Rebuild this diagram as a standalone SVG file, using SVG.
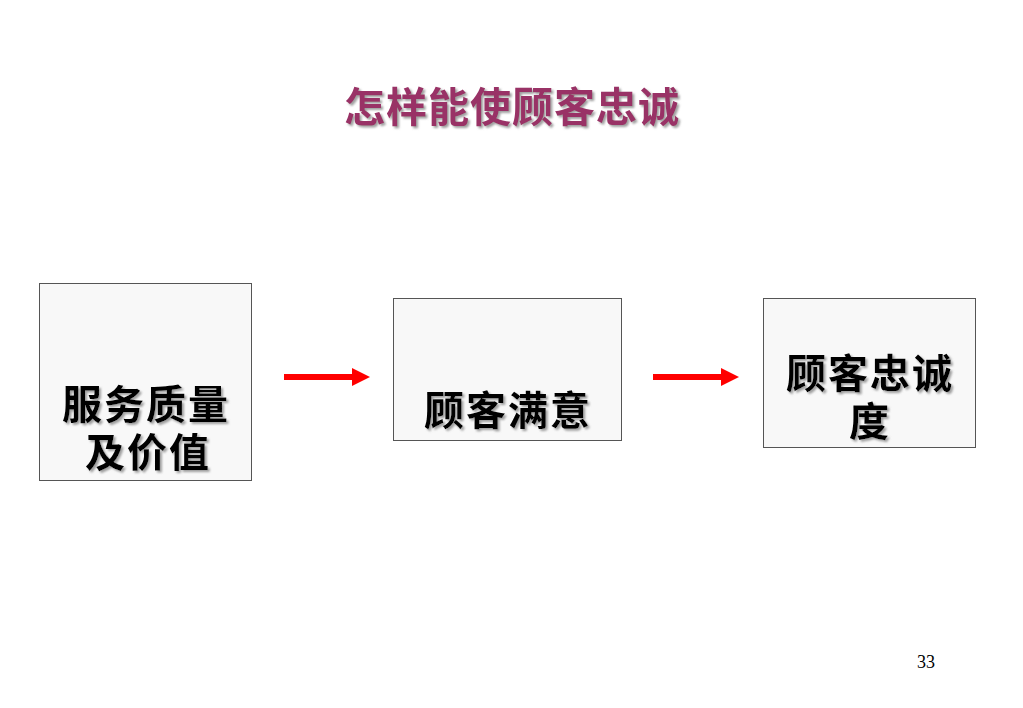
<svg xmlns="http://www.w3.org/2000/svg" width="1023" height="708" viewBox="0 0 1023 708">
<defs>
<style>
.box{fill:#f8f8f8;stroke:#555555;stroke-width:1}
.lbl{font-family:"Noto Sans CJK SC","Noto Sans CJK JP",sans-serif;font-size:40px;font-weight:700;letter-spacing:2px;fill:#000000;text-anchor:middle;filter:url(#sh)}
.title{font-family:"Noto Sans CJK SC","Noto Sans CJK JP",sans-serif;font-size:41px;font-weight:700;letter-spacing:1px;fill:#993366;text-anchor:middle;filter:url(#sh)}
.arrow{stroke:#ff0000;stroke-width:6;fill:none}
.num{font-family:"Liberation Serif",serif;font-size:18px;fill:#000000}
</style>
<filter id="sh" x="-10%" y="-20%" width="120%" height="150%">
<feDropShadow dx="2" dy="2" stdDeviation="1" flood-color="#888888" flood-opacity="0.8"/>
</filter>
<marker id="ah" markerUnits="userSpaceOnUse" markerWidth="18" markerHeight="18" refX="1" refY="9" orient="auto" viewBox="0 0 18 18">
<path d="M0,0 L18,9 L0,18 Z" fill="#ff0000"/>
</marker>
</defs>
<rect width="1023" height="708" fill="#ffffff"/>
<g id="title">
<text class="title" x="512" y="122">怎样能使顾客忠诚</text>
</g>
<g id="node1">
<rect class="box" x="39.5" y="283.5" width="212" height="197"/>
<text class="lbl" x="146" y="419">服务质量<tspan x="148" dy="48">及价值</tspan></text>
</g>
<g id="node2">
<rect class="box" x="393.5" y="298.5" width="228" height="142"/>
<text class="lbl" x="508" y="425">顾客满意</text>
</g>
<g id="node3">
<rect class="box" x="763.5" y="298.5" width="212" height="149"/>
<text class="lbl" x="870" y="388">顾客忠诚<tspan x="870" dy="48">度</tspan></text>
</g>
<g id="connectors">
<line class="arrow" x1="284" y1="377" x2="353" y2="377" marker-end="url(#ah)"/>
<line class="arrow" x1="653" y1="377" x2="722" y2="377" marker-end="url(#ah)"/>
</g>
<text class="num" x="917" y="668">33</text>
</svg>
